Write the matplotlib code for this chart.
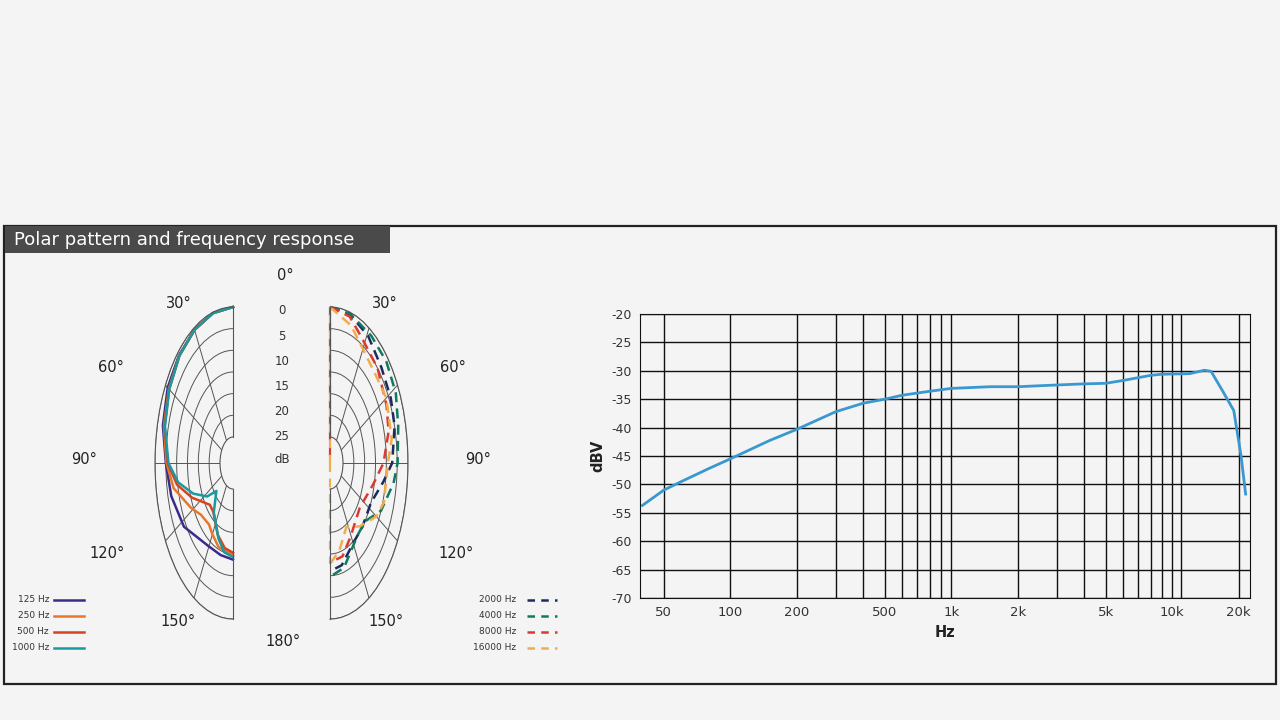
import numpy as np
import matplotlib
matplotlib.use("Agg")
import matplotlib.pyplot as plt
from matplotlib.lines import Line2D
from matplotlib.patches import Rectangle
from matplotlib.ticker import NullFormatter

# ---------------- data ----------------
left_labels = ["125 Hz", "250 Hz", "500 Hz", "1000 Hz"]
left_colors = ["#3b2a8a", "#e8772e", "#d4441f", "#1a9a9e"]
left_angles = [
    [0, 15, 30, 45, 60, 75, 90, 105, 123, 149, 165, 180],
    [0, 15, 30, 45, 60, 75, 90, 102, 118, 129, 142, 150, 161, 180],
    [0, 15, 30, 45, 60, 75, 90, 101, 113, 132, 141, 157, 169, 180],
    [0, 15, 30, 45, 60, 75, 90, 100, 111, 123, 130, 142, 159, 169, 180],
]
left_db = [
    [0, 0.2, 0.5, 0.8, 1.2, 2.5, 5.0, 6.5, 9.0, 13.7, 14.0, 13.7],
    [0, 0.2, 0.5, 1.0, 1.8, 3.0, 5.3, 8.0, 14.0, 17.0, 18.0, 17.0, 15.5, 14.7],
    [0, 0.2, 0.5, 1.0, 2.0, 3.3, 5.8, 9.7, 15.5, 21.6, 21.5, 18.0, 16.0, 15.3],
    [0, 0.2, 0.5, 1.0, 2.0, 3.5, 6.2, 10.3, 16.3, 21.8, 26.0, 21.6, 17.3, 15.0, 14.3],
]
right_labels = ["2000 Hz", "4000 Hz", "8000 Hz", "16000 Hz"]
right_colors = ["#1d2b5c", "#107a60", "#d93a32", "#f0ad4e"]
right_angles = [
    [0, 15, 31, 47, 62, 74, 90, 100, 116, 135, 149, 167, 180],
    [0, 15, 33, 48, 62, 75, 90, 99, 115, 130, 143, 165, 180],
    [0, 15, 27, 45, 63, 75, 90, 104, 127, 151, 165, 180],
    [0, 17, 33, 49, 60, 79, 90, 110, 120, 137, 153, 168, 180],
]
right_db = [
    [0, 0.5, 1.8, 3.6, 4.2, 5.0, 7.3, 11.0, 15.0, 15.0, 14.7, 11.8, 11.0],
    [0, 0.3, 1.0, 1.0, 1.6, 3.4, 4.8, 6.3, 10.0, 15.0, 15.0, 11.0, 9.7],
    [0, 1.0, 3.6, 5.0, 6.7, 8.0, 11.3, 15.5, 18.8, 16.5, 13.7, 13.0],
    [0, 2.8, 6.0, 6.7, 6.0, 7.0, 9.3, 9.5, 11.3, 16.0, 19.4, 15.3, 12.7],
]
freq_hz = [40, 50, 60, 80, 100, 150, 200, 300, 400, 500, 600, 800, 1000, 1500,
           2000, 3000, 4000, 5000, 6000, 8000, 9000, 12000, 14000, 15000,
           17000, 19000, 20500, 21500]
freq_dbv = [-53.7, -51.0, -49.5, -47.2, -45.5, -42.3, -40.3, -37.2, -35.7, -35.0,
            -34.3, -33.6, -33.1, -32.8, -32.8, -32.5, -32.3, -32.2, -31.7, -30.8,
            -30.6, -30.5, -29.9, -30.1, -33.7, -37.0, -45.0, -51.7]
x_ticks = [50, 100, 200, 500, 1000, 2000, 5000, 10000, 20000]
x_ticklabels = ["50", "100", "200", "500", "1k", "2k", "5k", "10k", "20k"]
y_ticks = [-20, -25, -30, -35, -40, -45, -50, -55, -60, -65, -70]
ring_db = [0, 5, 10, 15, 20, 25]

BG = "#f4f4f4"
W, H = 1280, 720
fig = plt.figure(figsize=(12.8, 7.2), dpi=100, facecolor=BG)

def fx(x): return x / W
def fy(y): return 1 - y / H

# frame and title
fig.patches.append(Rectangle((fx(4), fy(684)), fx(1272), (684 - 226) / H, transform=fig.transFigure,
                             fill=False, edgecolor="#222222", lw=1.6))
fig.patches.append(Rectangle((fx(5), fy(253)), fx(385), 27 / H, transform=fig.transFigure,
                             facecolor="#4a4a4a", edgecolor="none"))
fig.text(fx(14), fy(240), "Polar pattern and frequency response", color="white",
         fontsize=13, va="center", ha="left", family="DejaVu Sans")

R0 = 30.0   # radius for 0 dB
HOLE = 6.0  # dB-units inside hole

def setup_polar(ax, direction):
    ax.set_facecolor("none")
    ax.set_aspect("auto")
    ax.set_theta_zero_location("N")
    ax.set_theta_direction(direction)
    ax.set_thetamin(0)
    ax.set_thetamax(180)
    ax.set_rorigin(-HOLE)
    ax.set_rlim(0, R0)
    ax.set_rticks([R0 - d for d in ring_db])
    ax.set_yticklabels([])
    ax.set_xticks(np.deg2rad(np.arange(0, 181, 30)))
    ax.set_xticklabels([])
    ax.grid(True, color="#555555", lw=0.7)
    ax.tick_params(length=0)
    for s in ax.spines.values():
        s.set_color("#555555"); s.set_linewidth(0.8)

cy, r_px = 463, 156
axL = fig.add_axes([fx(272 - r_px), fy(cy + r_px), fx(r_px), 2 * r_px / H], projection="polar")
axR = fig.add_axes([fx(291), fy(cy + r_px), fx(r_px), 2 * r_px / H], projection="polar")
setup_polar(axL, 1)
setup_polar(axR, -1)

for ang, db, c in zip(left_angles, left_db, left_colors):
    axL.plot(np.deg2rad(ang), R0 - np.array(db), color=c, lw=1.8, clip_on=False)
axR.plot([0, 0], [R0, -HOLE], color=right_colors[2], lw=1.6, ls=(0, (4, 3)), clip_on=False)
axR.plot([0, 0], [R0, -HOLE], color=right_colors[3], lw=1.6, ls=(3.5, (4, 3)), clip_on=False)
axR.plot([np.pi, np.pi], [-HOLE, R0 - right_db[3][-1]], color=right_colors[3], lw=1.6,
         ls=(0, (4, 3)), clip_on=False)
for ang, db, c in zip(right_angles, right_db, right_colors):
    axR.plot(np.deg2rad(ang), R0 - np.array(db), color=c, lw=1.8, ls=(0, (4, 2.5)), clip_on=False)

# angle labels
lab_pos = [("0°", 285, 275), ("180°", 283, 641),
           ("30°", 179, 303), ("60°", 111, 368), ("90°", 84, 460), ("120°", 107, 554), ("150°", 178, 622),
           ("30°", 385, 303), ("60°", 453, 368), ("90°", 478, 460), ("120°", 456, 554), ("150°", 386, 622)]
for t, x, y in lab_pos:
    fig.text(fx(x), fy(y), t, ha="center", va="center", fontsize=10.5, color="#222222")
for i, d in enumerate(ring_db):
    fig.text(fx(282), fy(311 + i * 25.2), str(d), ha="center", va="center", fontsize=8.5, color="#333333")
fig.text(fx(282), fy(460), "dB", ha="center", va="center", fontsize=8.5, color="#333333")

# legends
for i, (t, c) in enumerate(zip(left_labels, left_colors)):
    y = 600 + i * 16
    fig.text(fx(49), fy(y), t, ha="right", va="center", fontsize=6.5, color="#333333")
    fig.lines.append(Line2D([fx(54), fx(84)], [fy(y), fy(y)], transform=fig.transFigure, color=c, lw=1.8))
for i, (t, c) in enumerate(zip(right_labels, right_colors)):
    y = 600 + i * 16
    fig.text(fx(516), fy(y), t, ha="right", va="center", fontsize=6.5, color="#333333")
    fig.lines.append(Line2D([fx(527), fx(557)], [fy(y), fy(y)], transform=fig.transFigure, color=c,
                            lw=1.8, ls=(0, (3, 2.5))))

# frequency response
ax = fig.add_axes([fx(640), fy(598), fx(610), 284 / H])
ax.set_facecolor("none")
ax.plot(freq_hz, freq_dbv, color="#3a98d0", lw=2)
ax.set_xscale("log")
ax.set_xlim(39, 22500)
ax.set_ylim(-70, -20)
ax.set_yticks(y_ticks)
ax.set_yticklabels([str(v) for v in y_ticks], fontsize=9, color="#333333")
grid_x = list(range(100, 1000, 100)) + list(range(1000, 10001, 1000)) + [11000]
ax.set_xticks(grid_x, minor=True)
ax.xaxis.set_minor_formatter(NullFormatter())
ax.set_xticks(x_ticks)
ax.set_xticklabels(x_ticklabels, fontsize=9.5, color="#333333")
ax.tick_params(which="both", length=0, pad=6)
ax.grid(True, which="both", axis="x", color="#111111", lw=1)
ax.grid(True, which="major", axis="y", color="#111111", lw=1)
for s in ax.spines.values():
    s.set_color("#111111")
ax.set_xlabel("Hz", fontsize=10.5, fontweight="bold", color="#222222")
ax.set_ylabel("dBV", fontsize=10.5, fontweight="bold", color="#222222")

fig.savefig("out.png", dpi=100, facecolor=BG)
